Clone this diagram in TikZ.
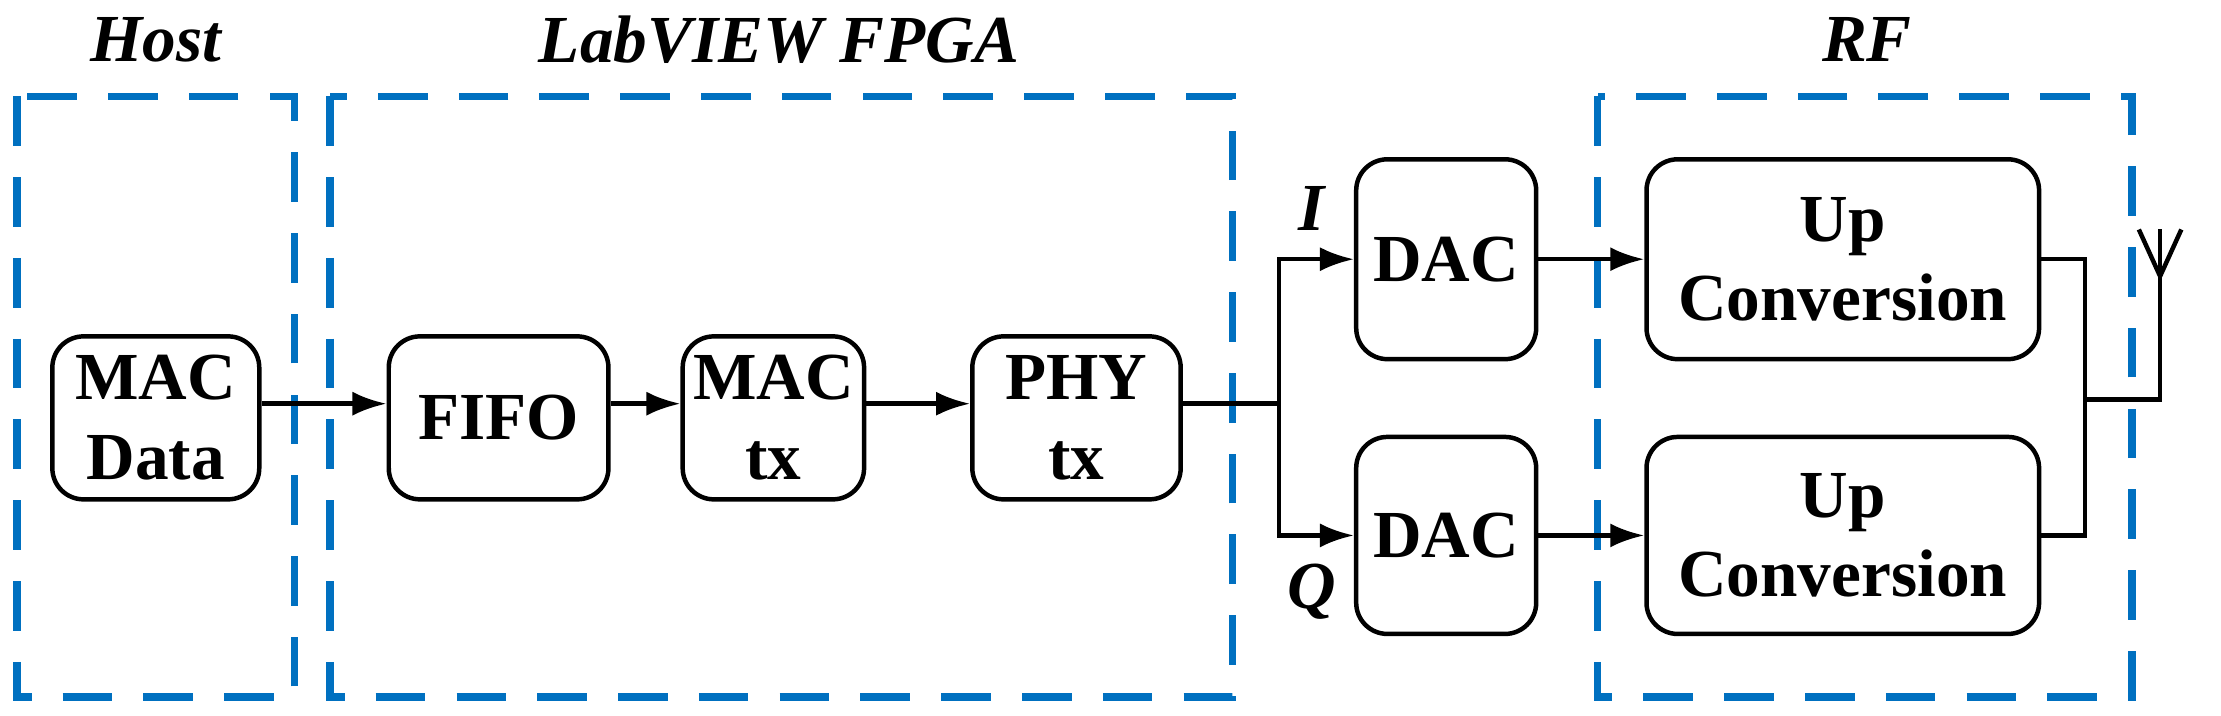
\documentclass[tikz,border=0pt]{standalone}
\usepackage{fontspec}
\setmainfont{Liberation Serif}
\usetikzlibrary{arrows.meta}
\definecolor{rfblue}{RGB}{0,112,192}
\tikzset{
  blk/.style={draw,rounded corners=2.2mm,line width=0.9pt,align=center,
    font=\fontsize{13.5}{16}\selectfont\bfseries,inner sep=0pt},
  region/.style={draw=rfblue,line width=1.5pt,dash pattern=on 3.5mm off 2.2mm},
  ttl/.style={font=\fontsize{13.5}{16}\selectfont\bfseries\itshape},
  wire/.style={line width=0.9pt},
  >={Latex[length=2.4mm,width=1.7mm]}
}
\begin{document}
\begin{tikzpicture}[x=0.01cm,y=-0.01cm]
  \useasboundingbox (0,0) rectangle (1568,505);
  % regions
  \draw[region] (12,68)   rectangle (208,492);
  \draw[region] (233,68)  rectangle (870,492);
  \draw[region] (1128,68) rectangle (1505,492);
  \node[ttl] (HOST) at (110,28)  {Host};
  \node[ttl] (FPGA) at (550,28)  {LabVIEW FPGA};
  \node[ttl] (RFT)  at (1318,28) {RF};

  \node[blk,minimum width=1.46cm,minimum height=1.15cm] (MAC)  at (110,295)  {MAC\\Data};
  \node[blk,minimum width=1.55cm,minimum height=1.15cm] (FIFO) at (352,295)  {FIFO};
  \node[blk,minimum width=1.28cm,minimum height=1.15cm] (MTX)  at (546,295)  {MAC\\tx};
  \node[blk,minimum width=1.47cm,minimum height=1.15cm] (PTX)  at (760,295)  {PHY\\tx};
  \node[blk,minimum width=1.27cm,minimum height=1.41cm] (DACI) at (1021,183) {DAC};
  \node[blk,minimum width=1.27cm,minimum height=1.39cm] (DACQ) at (1021,378) {DAC};
  \node[blk,minimum width=2.77cm,minimum height=1.41cm] (UPI)  at (1301,183) {Up\\Conversion};
  \node[blk,minimum width=2.77cm,minimum height=1.39cm] (UPQ)  at (1301,378) {Up\\Conversion};

  \coordinate (SPL) at (903,285);
  \coordinate (CMB) at (1472,282);
  \coordinate (ANT) at (1525,282);
  \coordinate (TIP) at (1525,195);

  \draw[wire,->] (MAC.east |- 0,285) -- (FIFO.west |- 0,285);
  \draw[wire,->] (FIFO.east |- 0,285) -- (MTX.west |- 0,285);
  \draw[wire,->] (MTX.east |- 0,285) -- (PTX.west |- 0,285);
  \draw[wire] (PTX.east |- 0,285) -- (SPL);
  \draw[wire,->] (SPL) |- (DACI.west) node[pos=0.72,anchor=south,yshift=2pt,ttl] (LI) {I};
  \draw[wire,->] (SPL) |- (DACQ.west) node[pos=0.72,anchor=north,yshift=-2pt,ttl] (LQ) {Q};
  \draw[wire,->] (DACI) -- (UPI);
  \draw[wire,->] (DACQ) -- (UPQ);
  \draw[wire] (UPI.east) -| (CMB) |- (UPQ.east);
  \draw[wire] (CMB) -- (ANT) -- (TIP);
  \draw[wire] (1510,162) -- (TIP) -- (1540,162);
  \draw[wire] (TIP) -- (1525,162);
\end{tikzpicture}
\end{document}
